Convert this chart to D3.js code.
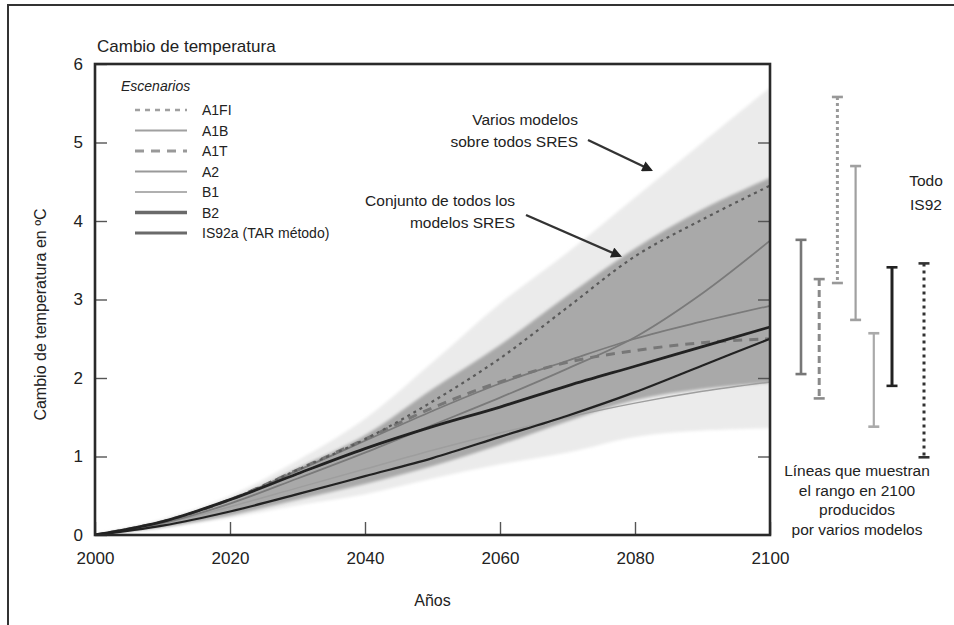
<!DOCTYPE html>
<html>
<head>
<meta charset="utf-8">
<script src="https://cdn.jsdelivr.net/npm/d3@7"></script>
<style>
  html, body { margin: 0; padding: 0; background: #fff; }
  svg { display: block; font-family: "Liberation Sans", Arial, Helvetica, sans-serif; }
</style>
</head>
<body>
<svg id="chart" width="954" height="625"></svg>
<script>
// Years sampled every decade
const years = [2000, 2010, 2020, 2030, 2040, 2050, 2060, 2070, 2080, 2090, 2100];

// Envelope of all models over all SRES scenarios (light band)
const allModelsLow  = [0, 0.10, 0.22, 0.38, 0.52, 0.72, 0.90, 1.05, 1.25, 1.33, 1.36];
const allModelsHigh = [0, 0.20, 0.50, 0.95, 1.48, 2.20, 2.95, 3.60, 4.30, 5.00, 5.70];

// Envelope of the model ensemble for all SRES (dark band)
const ensembleLow  = [0, 0.10, 0.25, 0.45, 0.65, 0.88, 1.15, 1.45, 1.72, 1.86, 1.94];
const ensembleHigh = [0, 0.17, 0.45, 0.85, 1.27, 1.86, 2.42, 3.05, 3.65, 4.15, 4.55];

// Scenario curves (ºC)
const a1fi  = [0, 0.17, 0.45, 0.83, 1.22, 1.70, 2.25, 2.90, 3.55, 4.02, 4.45];
const a1b   = [0, 0.17, 0.45, 0.82, 1.20, 1.58, 1.93, 2.22, 2.50, 2.72, 2.92];
const a1t   = [0, 0.17, 0.45, 0.83, 1.22, 1.62, 1.95, 2.20, 2.35, 2.45, 2.50];
const a2    = [0, 0.15, 0.40, 0.72, 1.05, 1.40, 1.75, 2.12, 2.52, 3.08, 3.75];
const b1    = [0, 0.14, 0.36, 0.60, 0.84, 1.08, 1.30, 1.50, 1.68, 1.83, 1.95];
const b2    = [0, 0.17, 0.45, 0.78, 1.10, 1.38, 1.63, 1.90, 2.15, 2.40, 2.65];
const is92a = [0, 0.12, 0.30, 0.52, 0.75, 0.98, 1.25, 1.52, 1.82, 2.16, 2.50];

const scenarioNames = ["A1FI", "A1B", "A1T", "A2", "B1", "B2", "IS92a (TAR método)"];

// Ranges in 2100 from several models
const rangeNames = ["A1B", "A1T", "A1FI", "A2", "B1", "B2", "IS92"];
const rangeLow   = [2.05, 1.74, 3.21, 2.74, 1.38, 1.90, 0.99];
const rangeHigh  = [3.76, 3.26, 5.58, 4.70, 2.57, 3.41, 3.46];

const yTicks = [0, 1, 2, 3, 4, 5, 6];
const xTicks = [2000, 2020, 2040, 2060, 2080, 2100];

// ---- styles ----
const plotStyle = {
  "A1FI": { stroke: "#5a5a5a", width: 2.2, dash: "3,4" },
  "A1B":  { stroke: "#7a7a7a", width: 1.8, dash: null },
  "A1T":  { stroke: "#777",    width: 3,   dash: "9,7" },
  "A2":   { stroke: "#7a7a7a", width: 1.8, dash: null },
  "B1":   { stroke: "#9e9e9e", width: 1.5, dash: null },
  "B2":   { stroke: "#222",    width: 2.8, dash: null },
  "IS92a (TAR método)": { stroke: "#222", width: 2.2, dash: null }
};
const legendStyle = {
  "A1FI": { stroke: "#a0a0a0", width: 2.5, dash: "5,5" },
  "A1B":  { stroke: "#a0a0a0", width: 1.8, dash: null },
  "A1T":  { stroke: "#999",    width: 3,   dash: "9,7" },
  "A2":   { stroke: "#999",    width: 2.2, dash: null },
  "B1":   { stroke: "#b0b0b0", width: 2.2, dash: null },
  "B2":   { stroke: "#6a6a6a", width: 3.5, dash: null },
  "IS92a (TAR método)": { stroke: "#6a6a6a", width: 3.2, dash: null }
};
const rangeStyle = {
  "A1B":  { stroke: "#777", width: 2.6, dash: null },
  "A1T":  { stroke: "#8a8a8a", width: 3, dash: "7,4" },
  "A1FI": { stroke: "#999", width: 3, dash: "3,3" },
  "A2":   { stroke: "#a0a0a0", width: 2.2, dash: null },
  "B1":   { stroke: "#aaa", width: 2.2, dash: null },
  "B2":   { stroke: "#222", width: 3, dash: null },
  "IS92": { stroke: "#333", width: 3, dash: "3,4" }
};

const svg = d3.select("#chart");
const plotLeft = 95, plotRight = 770, plotTop = 64, plotBottom = 535;

const x = d3.scaleLinear().domain([2000, 2100]).range([plotLeft, plotRight]);
const y = d3.scaleLinear().domain([0, 6]).range([plotBottom, plotTop]);

// soft edges
const defs = svg.append("defs");
defs.append("filter").attr("id", "softBand").attr("x", "-5%").attr("y", "-5%").attr("width", "110%").attr("height", "110%")
  .append("feGaussianBlur").attr("stdDeviation", 1.4);
defs.append("filter").attr("id", "softLine").attr("x", "-5%").attr("y", "-5%").attr("width", "110%").attr("height", "110%")
  .append("feGaussianBlur").attr("stdDeviation", 0.55);
defs.append("marker").attr("id", "arrowHead")
  .attr("viewBox", "0 0 10 10").attr("refX", 8).attr("refY", 5)
  .attr("markerWidth", 5).attr("markerHeight", 4.5).attr("orient", "auto")
  .append("path").attr("d", "M0,0 L10,5 L0,10 z").attr("fill", "#222");
defs.append("clipPath").attr("id", "plotClip")
  .append("rect").attr("x", plotLeft).attr("y", plotTop).attr("width", plotRight - plotLeft).attr("height", plotBottom - plotTop);

// outer frame (top and left edges)
svg.append("path")
  .attr("d", "M8,625 L8,5 L954,5")
  .attr("fill", "none").attr("stroke", "#333").attr("stroke-width", 2);

const plot = svg.append("g").attr("clip-path", "url(#plotClip)");
const curve = d3.curveCatmullRom.alpha(0.5);

const area = (lo, hi) => d3.area()
  .x((d, i) => x(years[i]))
  .y0((d, i) => y(lo[i]))
  .y1((d, i) => y(hi[i]))
  .curve(curve)(years);

plot.append("path").attr("d", area(allModelsLow, allModelsHigh))
  .attr("fill", "#ebebeb").attr("filter", "url(#softBand)");
plot.append("path").attr("d", area(ensembleLow, ensembleHigh))
  .attr("fill", "#a9a9a9").attr("filter", "url(#softBand)");

const line = vals => d3.line()
  .x((d, i) => x(years[i]))
  .y((d, i) => y(vals[i]))
  .curve(curve)(years);

const series = [
  ["B1", b1], ["A2", a2], ["A1B", a1b], ["A1T", a1t], ["A1FI", a1fi], ["IS92a (TAR método)", is92a], ["B2", b2]
];
const lines = plot.append("g").attr("filter", "url(#softLine)");
series.forEach(([name, vals]) => {
  const s = plotStyle[name];
  lines.append("path").attr("d", line(vals))
    .attr("fill", "none").attr("stroke", s.stroke).attr("stroke-width", s.width)
    .attr("stroke-dasharray", s.dash).attr("stroke-linecap", "butt");
});

// axes with inward ticks
const axisG = svg.append("g");
const ax = axisG.append("g").attr("transform", `translate(${plotLeft},0)`)
  .call(d3.axisLeft(y).tickValues(yTicks).tickFormat(d3.format("d")).tickSize(-12).tickPadding(12));
const bx = axisG.append("g").attr("transform", `translate(0,${plotBottom})`)
  .call(d3.axisBottom(x).tickValues(xTicks).tickFormat(d3.format("d")).tickSize(-13).tickPadding(17));
const rx = axisG.append("g").attr("transform", `translate(${plotRight},0)`)
  .call(d3.axisRight(y).tickValues(yTicks.slice(1, -1)).tickFormat("").tickSize(-12));
[ax, bx, rx].forEach(g => {
  g.select(".domain").remove();
  g.selectAll(".tick line").attr("stroke", "#555").attr("stroke-width", 1.4);
  g.selectAll(".tick text").attr("font-size", 17).attr("fill", "#222")
    .attr("font-family", "'Liberation Sans', Arial, sans-serif");
});

// plot frame
svg.append("rect").attr("x", plotLeft).attr("y", plotTop).attr("width", plotRight - plotLeft).attr("height", plotBottom - plotTop)
  .attr("fill", "none").attr("stroke", "#2a2a2a").attr("stroke-width", 2.6);

// titles
svg.append("text").attr("x", 97).attr("y", 52).attr("font-size", 17).attr("fill", "#222")
  .text("Cambio de temperatura");
svg.append("text").attr("transform", `translate(46,${(plotTop + plotBottom) / 2 + 15}) rotate(-90)`)
  .attr("text-anchor", "middle").attr("font-size", 16).attr("fill", "#222")
  .text("Cambio de temperatura en ºC");
svg.append("text").attr("x", (plotLeft + plotRight) / 2).attr("y", 606).attr("text-anchor", "middle")
  .attr("font-size", 16).attr("fill", "#222").text("Años");

// legend
const lg = svg.append("g");
lg.append("text").attr("x", 121).attr("y", 91).attr("font-size", 14).attr("font-style", "italic")
  .attr("fill", "#222").text("Escenarios");
const legendY = d3.scalePoint().domain(scenarioNames).range([110, 233]);
scenarioNames.forEach(name => {
  const s = legendStyle[name];
  const yy = legendY(name);
  lg.append("line").attr("x1", 135).attr("x2", 187).attr("y1", yy).attr("y2", yy)
    .attr("stroke", s.stroke).attr("stroke-width", s.width).attr("stroke-dasharray", s.dash);
  lg.append("text").attr("x", 202).attr("y", yy + 5).attr("font-size", 14).attr("fill", "#222").text(name);
});

// annotations
const ann = svg.append("g").attr("font-size", 15.5).attr("fill", "#222").attr("text-anchor", "end");
ann.append("text").attr("x", 578).attr("y", 125).text("Varios modelos");
ann.append("text").attr("x", 578).attr("y", 147).text("sobre todos SRES");
ann.append("text").attr("x", 515).attr("y", 206).text("Conjunto de todos los");
ann.append("text").attr("x", 515).attr("y", 228).text("modelos SRES");
svg.append("line").attr("x1", 588).attr("y1", 140).attr("x2", 651).attr("y2", 170)
  .attr("stroke", "#333").attr("stroke-width", 2.4).attr("marker-end", "url(#arrowHead)");
svg.append("line").attr("x1", 526).attr("y1", 215).attr("x2", 620).attr("y2", 256)
  .attr("stroke", "#333").attr("stroke-width", 2.4).attr("marker-end", "url(#arrowHead)");

// range bars for 2100
const sresNames = rangeNames.slice(0, 6);
const rangeX = d3.scalePoint().domain(sresNames).range([801, 892]);
const barX = name => name === "IS92" ? rangeX("B2") + 32 : rangeX(name);
const bars = svg.append("g").attr("filter", "url(#softLine)");
rangeNames.forEach((name, i) => {
  const s = rangeStyle[name];
  const bxp = barX(name);
  bars.append("line").attr("x1", bxp).attr("x2", bxp).attr("y1", y(rangeHigh[i])).attr("y2", y(rangeLow[i]))
    .attr("stroke", s.stroke).attr("stroke-width", s.width).attr("stroke-dasharray", s.dash);
  [rangeHigh[i], rangeLow[i]].forEach(v => {
    bars.append("line").attr("x1", bxp - 5.5).attr("x2", bxp + 5.5).attr("y1", y(v)).attr("y2", y(v))
      .attr("stroke", s.stroke).attr("stroke-width", 2.6);
  });
});

const side = svg.append("g").attr("font-size", 15.5).attr("fill", "#222").attr("text-anchor", "middle");
side.append("text").attr("x", barX("IS92") + 2).attr("y", 186).text("Todo");
side.append("text").attr("x", barX("IS92") + 2).attr("y", 210).text("IS92");
["Líneas que muestran", "el rango en 2100", "producidos", "por varios modelos"].forEach((t, i) => {
  side.append("text").attr("x", 857).attr("y", 476 + i * 19.5).text(t);
});
</script>
</body>
</html>
